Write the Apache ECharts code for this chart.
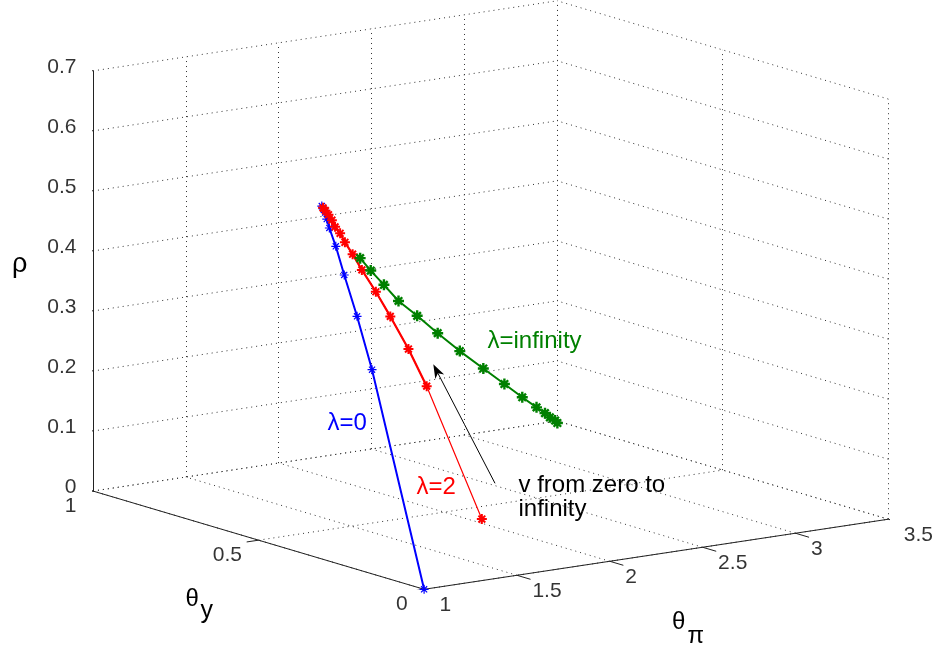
<!DOCTYPE html>
<html>
<head>
<meta charset="utf-8">
<script src="https://cdn.jsdelivr.net/npm/echarts@6/dist/echarts.min.js"></script>
<style>
  html, body { margin: 0; padding: 0; background: #fff; }
  #chart { width: 938px; height: 653px; }
</style>
</head>
<body>
<div id="chart"></div>
<script>
// axis ticks
const THETA_PI_TICKS = [1, 1.5, 2, 2.5, 3, 3.5];
const THETA_PI_LABELS = ['1', '1.5', '2', '2.5', '3', '3.5'];
const THETA_Y_TICKS = [0, 0.5, 1];
const THETA_Y_LABELS = ['0', '0.5', '1'];
const RHO_TICKS = [0, 0.1, 0.2, 0.3, 0.4, 0.5, 0.6, 0.7];
const RHO_LABELS = ['0', '0.1', '0.2', '0.3', '0.4', '0.5', '0.6', '0.7'];

// lambda = 0 (blue)
const lam0ThetaPi = [1.000, 1.333, 1.402, 1.449, 1.482, 1.499, 1.510, 1.519, 1.520, 1.519];
const lam0ThetaY  = [0.000, 0.344, 0.428, 0.493, 0.537, 0.566, 0.580, 0.590, 0.596, 0.600];
const lam0Rho     = [0.000, 0.294, 0.366, 0.422, 0.461, 0.486, 0.498, 0.507, 0.512, 0.516];

// lambda = 2 (red)
const lam2ThetaPi = [2.051, 1.893, 1.834, 1.772, 1.721, 1.667, 1.635, 1.606, 1.589, 1.569, 1.559, 1.546, 1.535, 1.524];
const lam2ThetaY  = [0.415, 0.493, 0.515, 0.535, 0.550, 0.562, 0.572, 0.579, 0.584, 0.588, 0.592, 0.595, 0.598, 0.599];
const lam2Rho     = [0.000, 0.216, 0.277, 0.331, 0.372, 0.409, 0.435, 0.455, 0.470, 0.481, 0.492, 0.501, 0.508, 0.513];

// lambda = infinity (green)
const lamInfThetaPi = [1.672, 1.770, 1.891, 2.023, 2.193, 2.382, 2.585, 2.799, 2.991, 3.155, 3.287, 3.363, 3.409, 3.455, 3.476];
const lamInfThetaY  = [0.570, 0.593, 0.621, 0.651, 0.690, 0.734, 0.781, 0.830, 0.874, 0.912, 0.943, 0.960, 0.971, 0.981, 0.986];
const lamInfRho     = [0.427, 0.398, 0.364, 0.326, 0.287, 0.242, 0.195, 0.148, 0.106, 0.070, 0.042, 0.026, 0.015, 0.006, 0.000];

// view (like matlab view(az, el)), box stretched in z
const AZ = -35.5, EL = 12.22, Z_ASPECT = 0.754;
const TP_MIN = 1, TP_MAX = 3.5, TY_MIN = 0, TY_MAX = 1, RHO_MIN = 0, RHO_MAX = 0.7;
const FONT = 'Liberation Sans, Arial, Helvetica, sans-serif';

function project(tp, ty, rho) {
  const a = AZ * Math.PI / 180, e = EL * Math.PI / 180;
  const u = (tp - TP_MIN) / (TP_MAX - TP_MIN);
  const v = (ty - TY_MIN) / (TY_MAX - TY_MIN);
  const w = (rho - RHO_MIN) / (RHO_MAX - RHO_MIN) * Z_ASPECT;
  return [
    u * Math.cos(a) + v * Math.sin(a),
    -u * Math.sin(a) * Math.sin(e) + v * Math.cos(a) * Math.sin(e) + w * Math.cos(e)
  ];
}

// bounding box of the plot cube -> range of the hidden 2d axes
const corners = [];
[TP_MIN, TP_MAX].forEach(tp => [TY_MIN, TY_MAX].forEach(ty => [RHO_MIN, RHO_MAX].forEach(r => corners.push(project(tp, ty, r)))));
const pxMin = Math.min(...corners.map(c => c[0])), pxMax = Math.max(...corners.map(c => c[0]));
const pyMin = Math.min(...corners.map(c => c[1])), pyMax = Math.max(...corners.map(c => c[1]));

function curve(tps, tys, rhos) {
  return tps.map((tp, i) => project(tp, tys[i], rhos[i]));
}

const segs = (list) => list.map(([p, q]) => ({ coords: [project(...p), project(...q)] }));

// dotted grid on the back walls and the floor
const gridPairs = [];
THETA_PI_TICKS.forEach(tp => gridPairs.push([[tp, TY_MAX, RHO_MIN], [tp, TY_MAX, RHO_MAX]]));
RHO_TICKS.forEach(r => gridPairs.push([[TP_MIN, TY_MAX, r], [TP_MAX, TY_MAX, r]]));
THETA_Y_TICKS.forEach(ty => gridPairs.push([[TP_MAX, ty, RHO_MIN], [TP_MAX, ty, RHO_MAX]]));
RHO_TICKS.forEach(r => gridPairs.push([[TP_MAX, TY_MIN, r], [TP_MAX, TY_MAX, r]]));
THETA_PI_TICKS.forEach(tp => gridPairs.push([[tp, TY_MIN, RHO_MIN], [tp, TY_MAX, RHO_MIN]]));
THETA_Y_TICKS.forEach(ty => gridPairs.push([[TP_MIN, ty, RHO_MIN], [TP_MAX, ty, RHO_MIN]]));

// solid axis lines and ticks
const axisPairs = [
  [[TP_MIN, TY_MAX, RHO_MIN], [TP_MIN, TY_MAX, RHO_MAX]],
  [[TP_MIN, TY_MIN, RHO_MIN], [TP_MIN, TY_MAX, RHO_MIN]],
  [[TP_MIN, TY_MIN, RHO_MIN], [TP_MAX, TY_MIN, RHO_MIN]]
];
RHO_TICKS.forEach(r => axisPairs.push([[TP_MIN, TY_MAX, r], [TP_MIN, TY_MAX + 0.032, r]]));
THETA_Y_TICKS.forEach(ty => axisPairs.push([[TP_MIN, ty, RHO_MIN], [TP_MIN - 0.064, ty, RHO_MIN]]));
THETA_PI_TICKS.forEach(tp => axisPairs.push([[tp, TY_MIN, RHO_MIN], [tp, TY_MIN - 0.041, RHO_MIN]]));

const STAR = 'path://M5,0L5,10M0,5L10,5M1.6,1.6L8.4,8.4M1.6,8.4L8.4,1.6';

function tickLabels(points, labels, position, distance, offset) {
  return {
    type: 'scatter',
    silent: true,
    symbolSize: 1,
    itemStyle: { color: 'rgba(0,0,0,0)' },
    label: {
      show: true,
      formatter: '{b}',
      position: position,
      distance: distance,
      offset: offset,
      color: '#000',
      fontSize: 21,
      fontFamily: FONT
    },
    data: points.map((p, i) => ({ name: labels[i], value: p })),
    z: 5
  };
}

function dataLine(name, points, color, width, symbolSize, borderWidth, showSymbol) {
  return {
    name: name,
    type: 'line',
    data: points,
    showSymbol: showSymbol,
    showAllSymbol: true,
    symbol: STAR,
    symbolSize: symbolSize,
    lineStyle: { color: color, width: width },
    itemStyle: { color: 'none', borderColor: color, borderWidth: borderWidth },
    z: 10
  };
}

const lam0Pts = curve(lam0ThetaPi, lam0ThetaY, lam0Rho);
const lam2Pts = curve(lam2ThetaPi, lam2ThetaY, lam2Rho);
const lamInfPts = curve(lamInfThetaPi, lamInfThetaY, lamInfRho);

// annotation arrow (figure coordinates, like matlab annotation)
const ARROW_TAIL = [495, 483.3], ARROW_TIP = [433.3, 364.3];
const adx = ARROW_TIP[0] - ARROW_TAIL[0], ady = ARROW_TIP[1] - ARROW_TAIL[1];
const alen = Math.hypot(adx, ady), ux = adx / alen, uy = ady / alen;
const headBase = [ARROW_TIP[0] - 14 * ux, ARROW_TIP[1] - 14 * uy];
const headNotch = [ARROW_TIP[0] - 10 * ux, ARROW_TIP[1] - 10 * uy];

function text(str, x, y, color, size) {
  return {
    type: 'text', x: x, y: y, silent: true,
    style: { text: str, fill: color, font: size + 'px ' + FONT, align: 'left', verticalAlign: 'middle' }
  };
}

const chart = echarts.init(document.getElementById('chart'));
chart.setOption({
  animation: false,
  backgroundColor: '#fff',
  grid: { left: 93, right: 49.7, top: 0.8, bottom: 63.7 },
  xAxis: { type: 'value', min: pxMin, max: pxMax, show: false },
  yAxis: { type: 'value', min: pyMin, max: pyMax, show: false },
  series: [
    {
      type: 'lines', coordinateSystem: 'cartesian2d', silent: true,
      lineStyle: { color: '#333', width: 1, type: [1, 4], opacity: 1 },
      data: segs(gridPairs), z: 1
    },
    {
      type: 'lines', coordinateSystem: 'cartesian2d', silent: true,
      lineStyle: { color: '#222', width: 1, type: 'solid', opacity: 1 },
      data: segs(axisPairs), z: 2
    },
    tickLabels(RHO_TICKS.map(r => project(TP_MIN, TY_MAX, r)), RHO_LABELS, 'left', 16, [0, -4]),
    tickLabels(THETA_Y_TICKS.map(ty => project(TP_MIN, ty, RHO_MIN)), THETA_Y_LABELS, 'left', 16, [0, 15]),
    tickLabels(THETA_PI_TICKS.map(tp => project(tp, TY_MIN, RHO_MIN)), THETA_PI_LABELS, 'right', 15, [0, 16]),
    dataLine('λ=0', lam0Pts, '#0000ff', 2, 9, 1.2, true),
    dataLine('λ=2 thick', lam2Pts.slice(1), '#ff0000', 2.2, 10, 2, false),
    dataLine('λ=2', lam2Pts, '#ff0000', 1.2, 10, 2, true),
    dataLine('λ=infinity', lamInfPts, '#008000', 2, 11, 2.4, true)
  ],
  graphic: [
    text('ρ', 12, 265, '#000', 27),
    text('θ', 185.5, 599, '#000', 24),
    text('y', 200.5, 611.5, '#000', 25),
    text('θ', 672, 622.5, '#000', 24),
    text('π', 687.5, 636.5, '#000', 24),
    text('λ=0', 327.5, 423.6, '#0000ff', 24),
    text('λ=2', 416.5, 487.6, '#ff0000', 24),
    text('λ=infinity', 487.5, 341.6, '#008000', 24),
    text('v from zero to', 518.5, 485.6, '#000', 24),
    text('infinity', 518.5, 509.6, '#000', 24),
    {
      type: 'line', silent: true,
      shape: { x1: ARROW_TAIL[0], y1: ARROW_TAIL[1], x2: headNotch[0], y2: headNotch[1] },
      style: { stroke: '#000', lineWidth: 1 }
    },
    {
      type: 'polygon', silent: true,
      shape: {
        points: [
          ARROW_TIP,
          [headBase[0] - 5 * uy, headBase[1] + 5 * ux],
          headNotch,
          [headBase[0] + 5 * uy, headBase[1] - 5 * ux]
        ]
      },
      style: { fill: '#000' }
    }
  ]
});
</script>
</body>
</html>
